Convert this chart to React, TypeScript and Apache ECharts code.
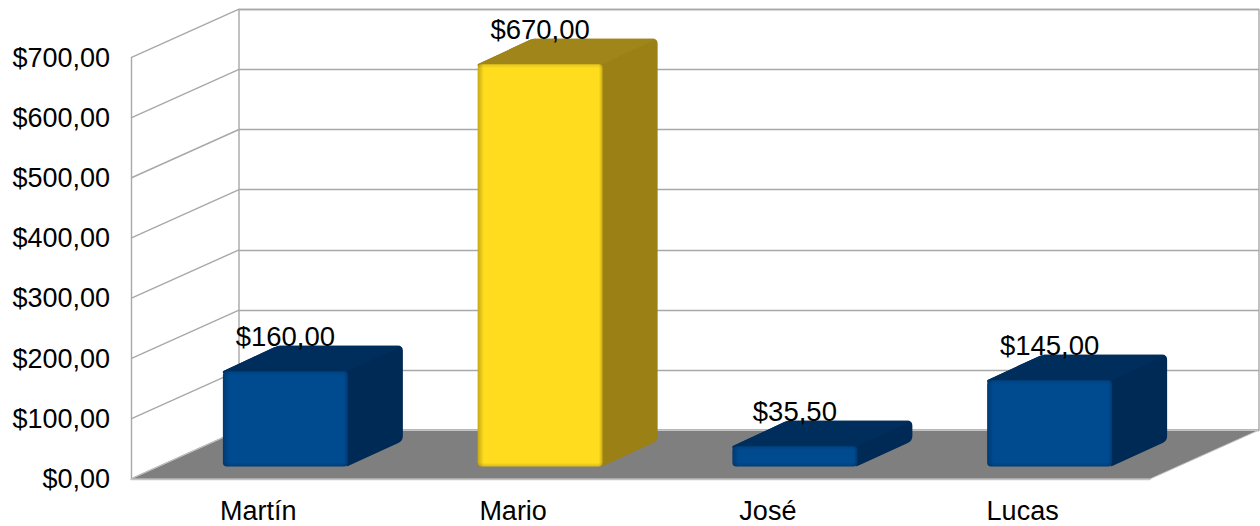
import React, { useEffect, useRef } from "react";
import * as echarts from "echarts";

const categories = ["Martín", "Mario", "José", "Lucas"];
const amounts = [160, 670, 35.5, 145];
const highlighted = "Mario";
const wallTicks = [0, 100, 200, 300, 400, 500, 600, 700];

const FONT = "Liberation Sans, Arial, sans-serif";
const FONT_SIZE = 27;
const GRID_COLOR = "#A8A8A8";
const WALL_DX = 108;
const WALL_DY = 48.5;
const BAR_OFFSET_X = 27;
const BAR_OFFSET_Y = 12.5;
const BAR_WIDTH = 125;
const BAR_DX = 55;
const BAR_DY = 25.5;

const money = (v: number) => "$" + v.toFixed(2).replace(".", ",");

const BLUE = { front: "#004A8F", edge: "#003A72", top: "#002E5C", side: "#002A56" };
const YELLOW = { front: "#FFDD1E", edge: "#C4A814", top: "#A0851A", side: "#9A8015" };

type Pt = [number, number];
// Polygon with softened corners; radii holds one corner radius per vertex.
function rounded(points: Pt[], radii: number[]): Pt[] {
  const out: Pt[] = [];
  const n = points.length;
  points.forEach((p, i) => {
    const r = radii[i];
    if (!r) {
      out.push(p);
      return;
    }
    const a = points[(i + n - 1) % n];
    const b = points[(i + 1) % n];
    const la = Math.hypot(a[0] - p[0], a[1] - p[1]);
    const lb = Math.hypot(b[0] - p[0], b[1] - p[1]);
    const s: Pt = [p[0] + ((a[0] - p[0]) * r) / la, p[1] + ((a[1] - p[1]) * r) / la];
    const e: Pt = [p[0] + ((b[0] - p[0]) * r) / lb, p[1] + ((b[1] - p[1]) * r) / lb];
    for (let k = 0; k <= 4; k++) {
      const t = k / 4;
      out.push([
        (1 - t) * (1 - t) * s[0] + 2 * t * (1 - t) * p[0] + t * t * e[0],
        (1 - t) * (1 - t) * s[1] + 2 * t * (1 - t) * p[1] + t * t * e[1],
      ]);
    }
  });
  return out;
}

function renderBar(params: any, api: any) {
  const i = api.value(0);
  const v = api.value(1);
  const base = api.coord([i, 0]);
  const top = api.coord([i, v]);
  const c = categories[i] === highlighted ? YELLOW : BLUE;
  const x0 = base[0] + BAR_OFFSET_X - BAR_WIDTH / 2;
  const x1 = x0 + BAR_WIDTH;
  const yB = base[1] - BAR_OFFSET_Y;
  const yT = top[1] - BAR_OFFSET_Y + 1;
  const h = yB - yT;
  const edge = Math.min(0.45, 4 / h);
  const silhouette = rounded(
    [[x0, yT], [x0 + BAR_DX, yT - BAR_DY], [x1 + BAR_DX, yT - BAR_DY], [x1 + BAR_DX, yB - BAR_DY], [x1 - 1, yB], [x1 - 3, yT + 3]],
    [0, 4, 5, 5, 0, 0]
  );
  const topFace = rounded(
    [[x0, yT], [x0 + BAR_DX, yT - BAR_DY], [x1 + BAR_DX, yT - BAR_DY], [x1, yT], [x1, yT + 2], [x0, yT + 2]],
    [0, 4, 5, 0, 0, 0]
  );
  return {
    type: "group",
    children: [
      { type: "polygon", shape: { points: silhouette }, style: { fill: c.side } },
      { type: "polygon", shape: { points: topFace }, style: { fill: c.top } },
      {
        type: "rect",
        shape: { x: x0, y: yT, width: BAR_WIDTH, height: h, r: 4 },
        style: {
          fill: new echarts.graphic.LinearGradient(0, 0, 1, 0, [
            { offset: 0, color: c.edge },
            { offset: 0.05, color: c.front },
            { offset: 0.97, color: c.front },
            { offset: 1, color: c.edge },
          ]),
        },
      },
      {
        type: "rect",
        shape: { x: x0, y: yT, width: BAR_WIDTH, height: h, r: 4 },
        style: {
          fill: new echarts.graphic.LinearGradient(0, 0, 0, 1, [
            { offset: 0, color: "rgba(0,0,0,0.12)" },
            { offset: edge, color: "rgba(0,0,0,0)" },
            { offset: 1 - edge, color: "rgba(0,0,0,0)" },
            { offset: 1, color: "rgba(0,0,0,0.15)" },
          ]),
        },
      },
      {
        type: "text",
        x: x0 + BAR_WIDTH / 2,
        y: yT - 35,
        style: {
          text: money(v),
          fill: "#000",
          font: `27.5px ${FONT}`,
          align: "center",
          verticalAlign: "middle",
        },
      },
    ],
  };
}

function renderWallLine(params: any, api: any) {
  const g = params.coordSys;
  const y = api.coord([0, api.value(0)])[1];
  return {
    type: "line",
    shape: { x1: g.x, y1: y, x2: g.x + WALL_DX, y2: y - WALL_DY },
    style: { stroke: GRID_COLOR, lineWidth: 1.4 },
  };
}

function renderFloor(params: any) {
  const g = params.coordSys;
  const y = g.y + g.height;
  const points: Pt[] = [
    [g.x, y],
    [g.x + WALL_DX, y - WALL_DY],
    [g.x + g.width + WALL_DX, y - WALL_DY],
    [g.x + g.width, y],
  ];
  return {
    type: "polygon",
    shape: { points },
    style: { fill: "#7F7F7F", stroke: "#C4C4C4", lineWidth: 1 },
  };
}

export default function App() {
  const ref = useRef<HTMLDivElement>(null);
  useEffect(() => {
    document.body.style.margin = "0";
    const chart = echarts.init(ref.current!, undefined, { renderer: "svg" });
    chart.setOption({
      animation: false,
      backgroundColor: "#fff",
      textStyle: { fontFamily: FONT },
      grid: [
        { left: 131, top: 57.6, width: 1019, height: 421.4, show: false, outerBoundsMode: "none" },
        { left: 239, top: 9.5, width: 1020, height: 420.5, show: true, outerBoundsMode: "none", borderColor: GRID_COLOR, borderWidth: 1.4, backgroundColor: "transparent" },
      ],
      xAxis: [
        {
          type: "category",
          gridIndex: 0,
          data: categories,
          axisLine: { lineStyle: { color: "#C4C4C4", width: 1.4 } },
          axisTick: { show: false },
          axisLabel: { color: "#000", fontSize: FONT_SIZE, fontFamily: FONT, margin: 20, lineHeight: 24 },
          z: 5,
        },
        { type: "category", gridIndex: 1, data: categories, show: false },
      ],
      yAxis: [
        {
          type: "value",
          gridIndex: 0,
          min: 0,
          max: 700,
          interval: 100,
          axisLine: { show: true, lineStyle: { color: GRID_COLOR, width: 1.4 } },
          axisTick: { show: false },
          splitLine: { show: false },
          axisLabel: { color: "#000", fontSize: FONT_SIZE, fontFamily: FONT, margin: 21, padding: [8, 0, 0, 0], formatter: (v: number) => money(v) },
        },
        {
          type: "value",
          gridIndex: 1,
          min: 0,
          max: 700,
          interval: 100,
          axisLine: { show: false },
          axisTick: { show: false },
          axisLabel: { show: false },
          splitLine: { show: true, lineStyle: { color: GRID_COLOR, width: 1.4 } },
        },
      ],
      series: [
        {
          type: "custom",
          xAxisIndex: 0,
          yAxisIndex: 0,
          data: wallTicks.map((v) => [v]),
          encode: { y: 0 },
          renderItem: renderWallLine,
          silent: true,
          clip: false,
          z: 1,
        },
        {
          type: "custom",
          xAxisIndex: 0,
          yAxisIndex: 0,
          data: [[0, 0]],
          renderItem: renderFloor,
          silent: true,
          clip: false,
          z: 2,
        },
        {
          type: "custom",
          xAxisIndex: 0,
          yAxisIndex: 0,
          data: amounts.map((v, i) => [i, v]),
          encode: { x: 0, y: 1 },
          renderItem: renderBar,
          silent: true,
          clip: false,
          z: 3,
        },
      ],
    });
    return () => chart.dispose();
  }, []);
  return <div ref={ref} style={{ width: 1260, height: 526 }} />;
}
